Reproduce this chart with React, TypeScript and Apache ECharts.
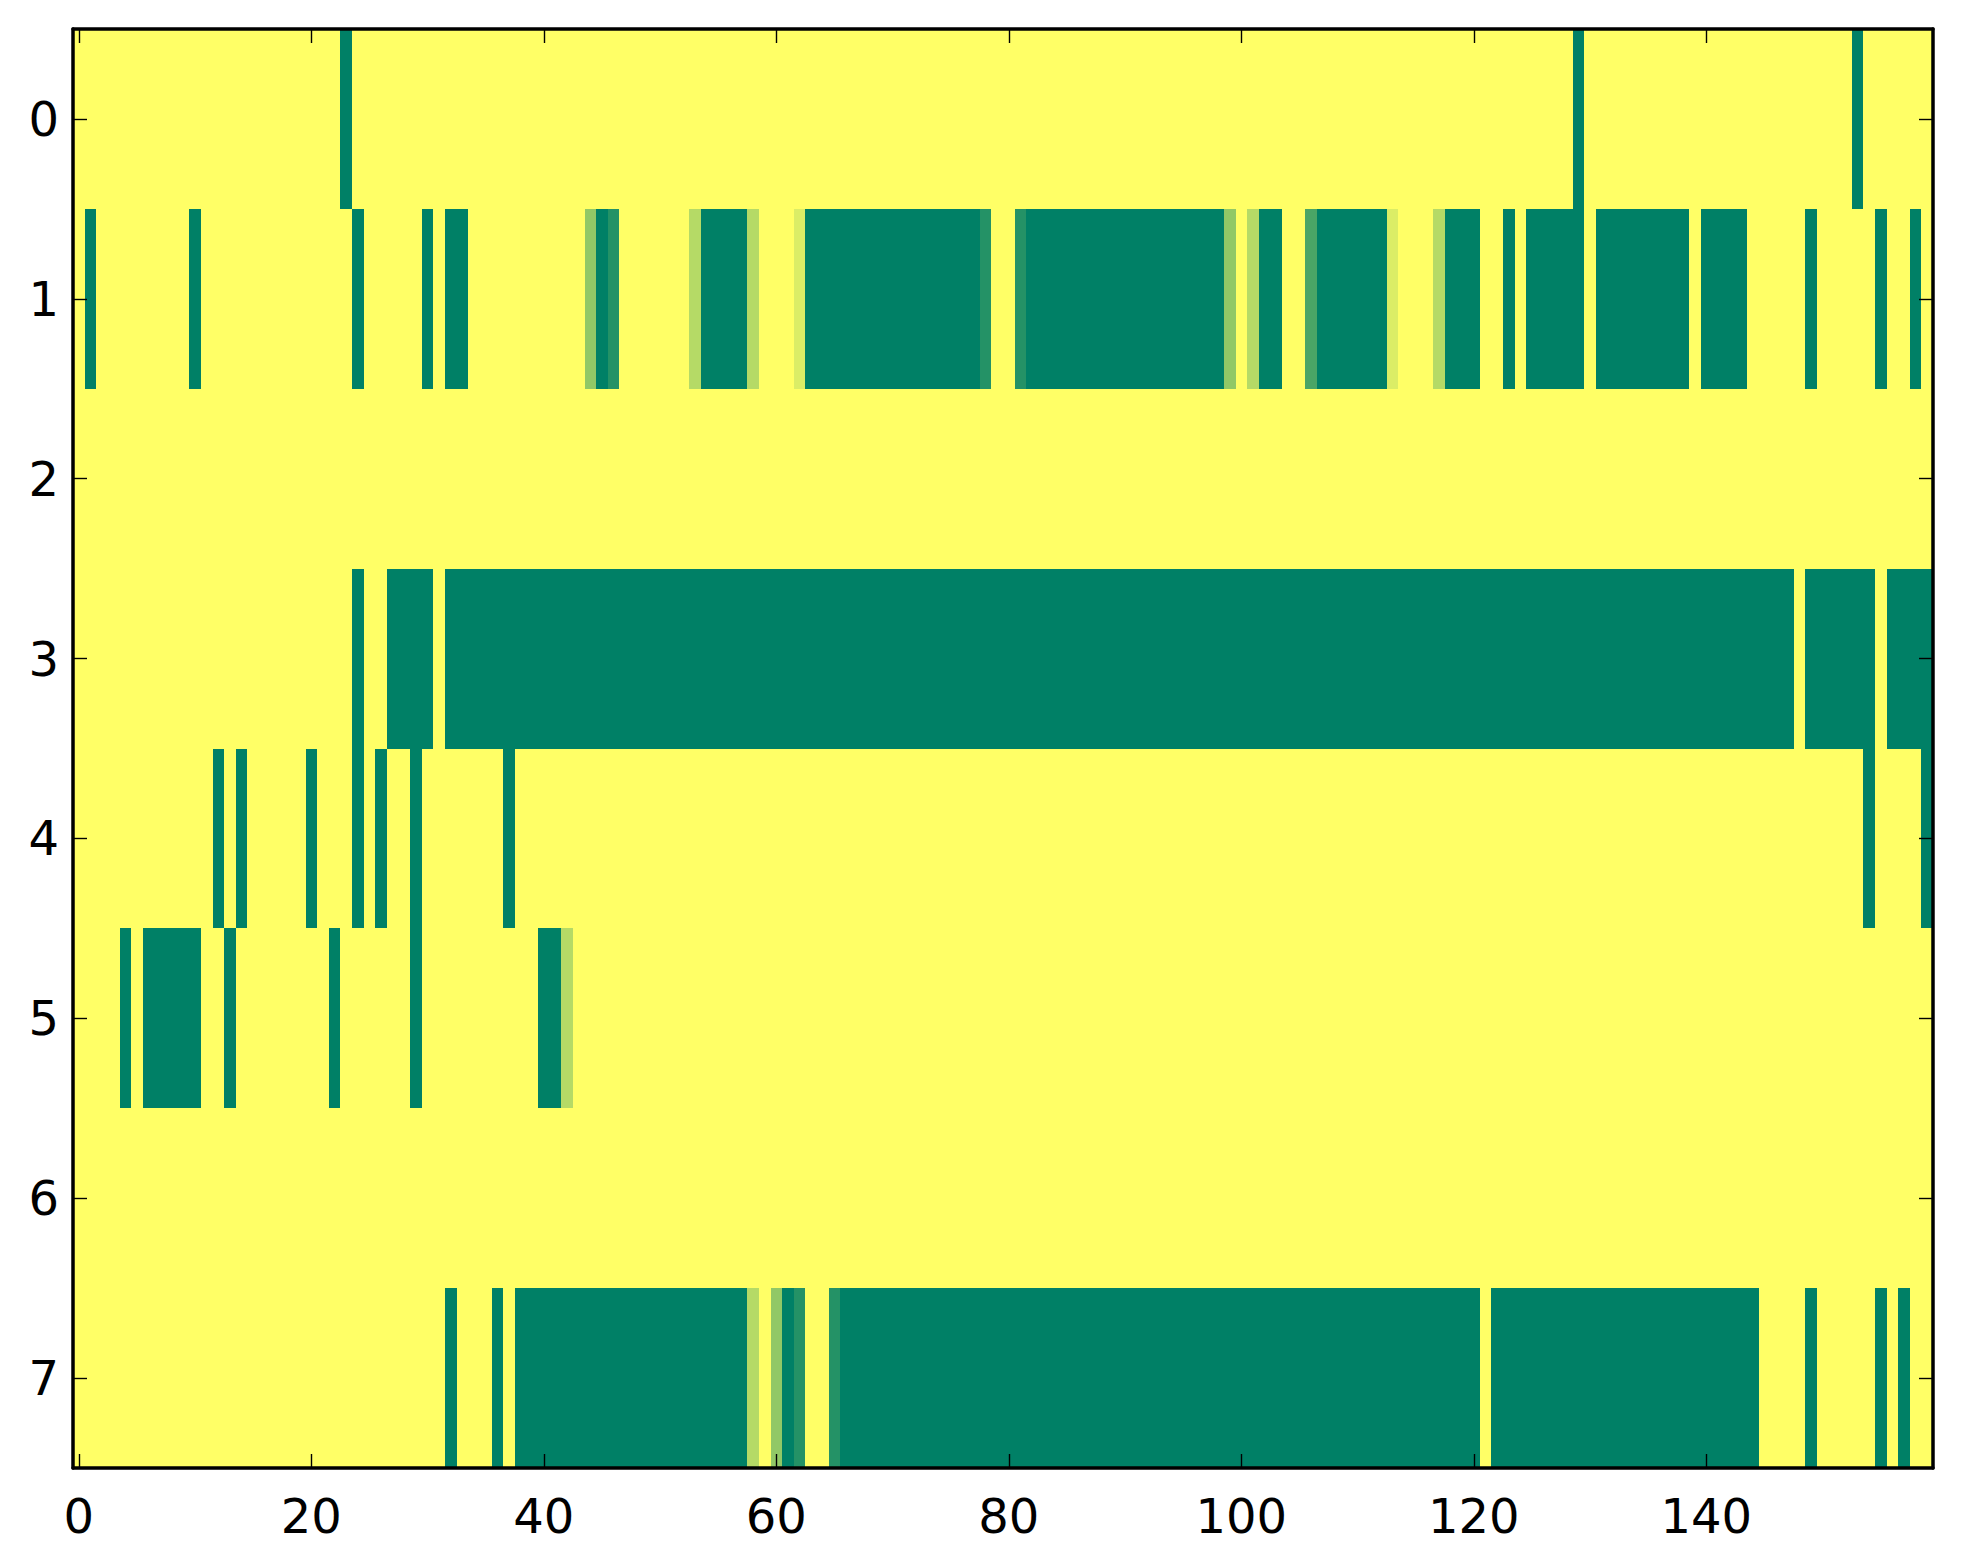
import React, { useEffect, useRef } from "react";
import * as echarts from "echarts";

// Column categories (matrix column index) and row categories
const xCategories: string[] = Array.from({ length: 160 }, (_, i) => String(i));
const yCategories: string[] = ["0", "1", "2", "3", "4", "5", "6", "7"];
const xTickLabels: number[] = [0, 20, 40, 60, 80, 100, 120, 140];

// Non-zero cells of each row, as runs [firstColumn, lastColumn, value]
const row0Runs: number[][] = [[23, 23, 1], [129, 129, 1], [153, 153, 1]];
const row1Runs: number[][] = [
  [1, 1, 1], [10, 10, 1], [24, 24, 1], [30, 30, 1], [32, 33, 1],
  [44, 44, 0.43], [45, 45, 1], [46, 46, 0.86], [53, 53, 0.29], [54, 57, 1],
  [58, 58, 0.29], [62, 62, 0.14], [63, 77, 1], [78, 78, 0.86], [81, 81, 0.86],
  [82, 98, 1], [99, 99, 0.43], [101, 101, 0.29], [102, 103, 1], [106, 106, 0.71],
  [107, 112, 1], [113, 113, 0.14], [117, 117, 0.29], [118, 120, 1], [123, 123, 1],
  [125, 129, 1], [131, 138, 1], [140, 143, 1], [149, 149, 1], [155, 155, 1],
  [158, 158, 1],
];
const row2Runs: number[][] = [];
const row3Runs: number[][] = [[24, 24, 1], [27, 30, 1], [32, 147, 1], [149, 154, 1], [156, 159, 1]];
const row4Runs: number[][] = [
  [12, 12, 1], [14, 14, 1], [20, 20, 1], [24, 24, 1], [26, 26, 1],
  [29, 29, 1], [37, 37, 1], [154, 154, 1], [159, 159, 1],
];
const row5Runs: number[][] = [
  [4, 4, 1], [6, 10, 1], [13, 13, 1], [22, 22, 1], [29, 29, 1], [40, 41, 1], [42, 42, 0.29],
];
const row6Runs: number[][] = [];
const row7Runs: number[][] = [
  [32, 32, 1], [36, 36, 1], [38, 57, 1], [58, 58, 0.29], [60, 60, 0.43],
  [61, 61, 1], [62, 62, 0.86], [65, 65, 0.86], [66, 120, 1], [122, 144, 1],
  [149, 149, 1], [155, 155, 1], [157, 157, 1],
];

const allRows = [row0Runs, row1Runs, row2Runs, row3Runs, row4Runs, row5Runs, row6Runs, row7Runs];

function buildSegments(): number[][] {
  const out: number[][] = [];
  const n = xCategories.length;
  allRows.forEach((runs, r) => {
    const cells = new Array(n).fill(0);
    runs.forEach(([a, b, v]) => {
      for (let c = a; c <= b; c++) cells[c] = v;
    });
    let start = 0;
    for (let c = 1; c <= n; c++) {
      if (c === n || cells[c] !== cells[start]) {
        out.push([start, c - 1, r, cells[start]]);
        start = c;
      }
    }
  });
  return out;
}

const FONT = "DejaVu Sans";

export default function App() {
  const ref = useRef<HTMLDivElement>(null);
  useEffect(() => {
    if (!ref.current) return;
    const chart = echarts.init(ref.current, undefined, { renderer: "svg" });
    const tickInterval = (i: number) => xTickLabels.includes(i);
    const axisLineStyle = { color: "#000", width: 3.5 };
    const tickStyle = { color: "#000", width: 1.4 };
    chart.setOption({
      animation: false,
      backgroundColor: "#ffffff",
      grid: { left: 73, right: 30, top: 29, bottom: 96, containLabel: false },
      visualMap: {
        type: "continuous",
        min: 0,
        max: 1,
        dimension: 3,
        seriesIndex: 0,
        show: false,
        inRange: { color: ["#ffff66", "#008066"] },
      },
      xAxis: [
        {
          type: "category",
          data: xCategories,
          position: "bottom",
          z: 10,
          boundaryGap: true,
          axisLine: { show: true, lineStyle: axisLineStyle },
          axisTick: { show: true, inside: true, length: 14, alignWithLabel: true, interval: tickInterval, lineStyle: tickStyle },
          axisLabel: { show: true, interval: tickInterval, color: "#000", fontFamily: FONT, fontSize: 48, margin: 24 },
          splitLine: { show: false },
        },
        {
          type: "category",
          data: xCategories,
          position: "top",
          z: 10,
          boundaryGap: true,
          axisLine: { show: true, lineStyle: axisLineStyle },
          axisTick: { show: true, inside: true, length: 14, alignWithLabel: true, interval: tickInterval, lineStyle: tickStyle },
          axisLabel: { show: false },
          splitLine: { show: false },
        },
      ],
      yAxis: [
        {
          type: "category",
          data: yCategories,
          inverse: true,
          position: "left",
          z: 10,
          axisLine: { show: true, lineStyle: axisLineStyle },
          axisTick: { show: true, inside: true, length: 14, alignWithLabel: true, lineStyle: tickStyle },
          axisLabel: { show: true, color: "#000", fontFamily: FONT, fontSize: 48, margin: 14 },
          splitLine: { show: false },
        },
        {
          type: "category",
          data: yCategories,
          inverse: true,
          position: "right",
          z: 10,
          axisLine: { show: true, lineStyle: axisLineStyle },
          axisTick: { show: true, inside: true, length: 14, alignWithLabel: true, lineStyle: tickStyle },
          axisLabel: { show: false },
          splitLine: { show: false },
        },
      ],
      series: [
        {
          type: "custom",
          xAxisIndex: 0,
          yAxisIndex: 0,
          encode: { x: 0, y: 2 },
          data: buildSegments(),
          renderItem: (params: any, api: any) => {
            const s = api.value(0);
            const e = api.value(1);
            const r = api.value(2);
            const p0 = api.coord([s, r]);
            const p1 = api.coord([e, r]);
            const size = api.size([1, 1]);
            const x0 = Math.round(p0[0] - size[0] / 2);
            const x1 = Math.round(p1[0] + size[0] / 2);
            const y0 = Math.round(p0[1] - size[1] / 2);
            const y1 = Math.round(p0[1] + size[1] / 2);
            return {
              type: "rect",
              shape: { x: x0, y: y0, width: x1 - x0, height: y1 - y0 },
              style: { fill: api.visual("color"), stroke: null },
            };
          },
        },
      ],
    });
    return () => chart.dispose();
  }, []);
  return (
    <div
      ref={ref}
      style={{ position: "fixed", left: 0, top: 0, width: 1963, height: 1564, background: "#fff" }}
    />
  );
}
